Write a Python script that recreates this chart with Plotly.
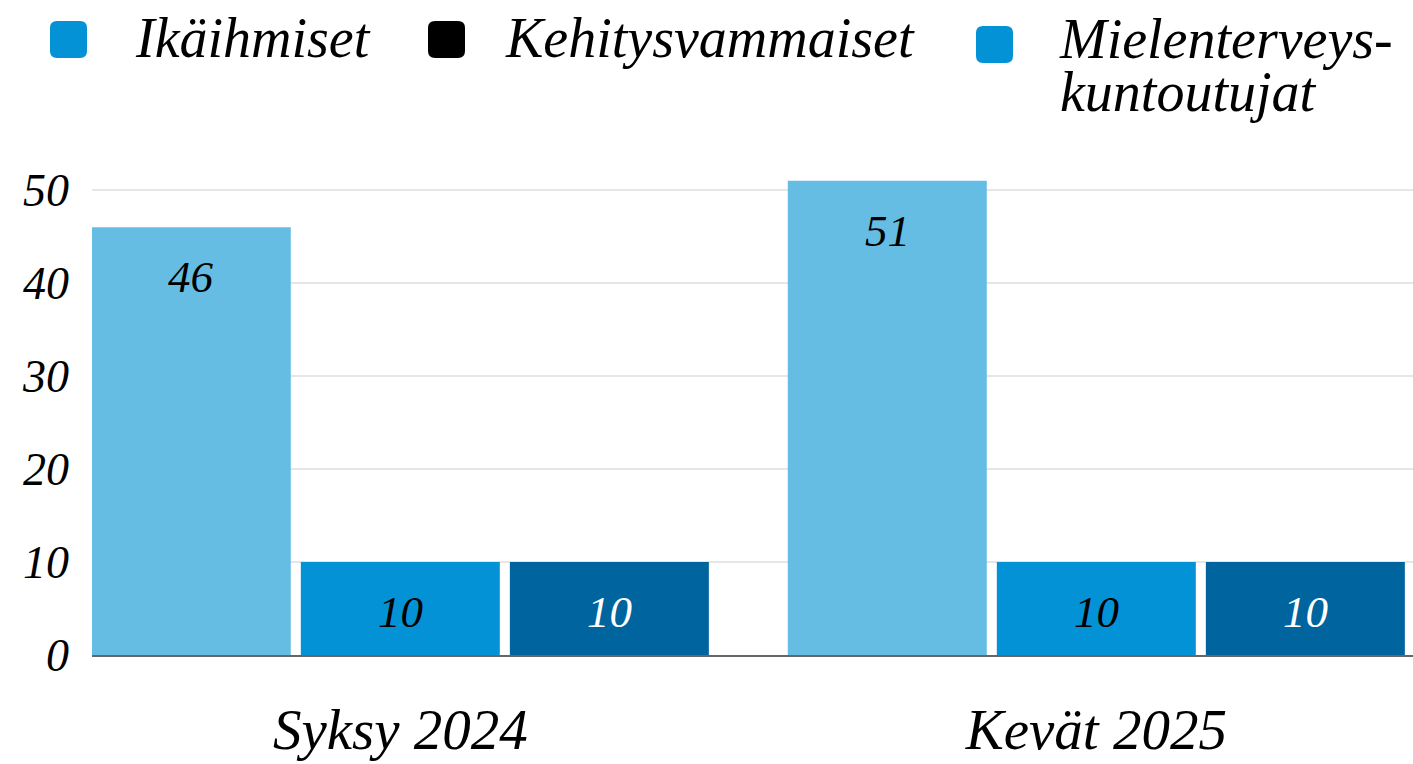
import plotly.graph_objects as go

# ---- data ----
categories = ["Syksy 2024", "Kevät 2025"]
series_names = ["Ikäihmiset", "Kehitysvammaiset", "Mielenterveyskuntoutujat"]
ikaihmiset = [46, 51]
kehitysvammaiset = [10, 10]
mielenterveys = [10, 10]
series_values = [ikaihmiset, kehitysvammaiset, mielenterveys]
y_ticks = [0, 10, 20, 30, 40, 50]

# ---- styling ----
bar_colors = ["#66bde3", "#0392d5", "#00649e"]
label_colors = ["#000000", "#000000", "#ffffff"]
legend_colors = ["#0392d5", "#000000", "#0392d5"]
FONT = "Liberation Serif"

W, H = 1413, 764
L, R, T, B = 92, 0, 160, 109
PW, PH = W - L - R, H - T - B

def px_x(px):
    return (px - L) / PW

def px_y(py):
    return (H - B - py) / PH

fig = go.Figure()
for name, vals, col in zip(series_names, series_values, bar_colors):
    fig.add_trace(go.Bar(x=categories, y=vals, name=name, marker=dict(color=col, line=dict(width=0)),
                         showlegend=False, hoverinfo="skip"))

bargap = 0.099
bargroupgap = 0.048
unit_px = 696.0
slot_px = (1 - bargap) * unit_px / len(series_names)

annotations = []
for i, (vals, tc) in enumerate(zip(series_values, label_colors)):
    for c, v in zip(categories, vals):
        annotations.append(dict(
            x=c, y=v, xref="x", yref="y", text=str(v), showarrow=False,
            xshift=(i - 1) * slot_px, yshift=-50, yanchor="middle", xanchor="center",
            font=dict(family=FONT, size=45, style="italic", color=tc)))

# ---- manual legend ----
shapes = []
def rounded_square(x0p, y0p, size, r, color):
    x0, x1 = x0p, x0p + size
    y0, y1 = y0p, y0p + size
    X = px_x
    Y = px_y
    path = (f"M {X(x0 + r)} {Y(y0)} L {X(x1 - r)} {Y(y0)} Q {X(x1)} {Y(y0)} {X(x1)} {Y(y0 + r)} "
            f"L {X(x1)} {Y(y1 - r)} Q {X(x1)} {Y(y1)} {X(x1 - r)} {Y(y1)} "
            f"L {X(x0 + r)} {Y(y1)} Q {X(x0)} {Y(y1)} {X(x0)} {Y(y1 - r)} "
            f"L {X(x0)} {Y(y0 + r)} Q {X(x0)} {Y(y0)} {X(x0 + r)} {Y(y0)} Z")
    return dict(type="path", path=path, xref="paper", yref="paper",
                fillcolor=color, line=dict(width=0), layer="above")

LEG_SIZE = 56
legend_items = [
    (50, 21, ["Ikäihmiset"], 133),
    (428, 21, ["Kehitysvammaiset"], 503),
    (976, 26, ["Mielenterveys-", "kuntoutujat"], 1058),
]
for (mx, my, lines, tx), col in zip(legend_items, legend_colors):
    shapes.append(rounded_square(mx, my, 37, 7, col))
    if len(lines) == 1:
        annotations.append(dict(
            x=px_x(tx), y=px_y(38), xref="paper", yref="paper", text=lines[0],
            showarrow=False, xanchor="left", yanchor="middle",
            font=dict(family=FONT, size=LEG_SIZE, style="italic", color="#000000")))
    else:
        # tighter line spacing: base font sets line height, spans set glyph size
        text = "<br>".join(f"<span style='font-size:{LEG_SIZE}px'>{ln}</span>" for ln in lines)
        annotations.append(dict(
            x=px_x(tx), y=px_y(7), xref="paper", yref="paper", text=text,
            showarrow=False, xanchor="left", yanchor="top", align="left", borderpad=0,
            font=dict(family=FONT, size=41, style="italic", color="#000000")))

fig.update_layout(
    width=W, height=H,
    margin=dict(l=L, r=R, t=T, b=B, pad=0),
    paper_bgcolor="white", plot_bgcolor="white",
    barmode="group", bargap=bargap, bargroupgap=bargroupgap,
    showlegend=False,
    font=dict(family=FONT, style="italic", color="#000000"),
    xaxis=dict(type="category", range=[-0.443, 1.455], showgrid=False,
               showline=True, linecolor="#666666", linewidth=1.5,
               tickfont=dict(family=FONT, size=57, style="italic", color="#000000"),
               ticks="", ticklabelstandoff=24),
    yaxis=dict(range=[0, PH / 9.3], tickvals=y_ticks, showgrid=True,
               gridcolor="#e6e6e6", gridwidth=1.5, zeroline=False, showline=False,
               tickfont=dict(family=FONT, size=46, style="italic", color="#000000"),
               ticks="", ticklabelstandoff=22),
    annotations=annotations,
    shapes=shapes,
)

fig.write_html("out.html", config={"displayModeBar": False},
               post_script="document.body.style.margin='0';document.body.style.overflow='hidden';")
